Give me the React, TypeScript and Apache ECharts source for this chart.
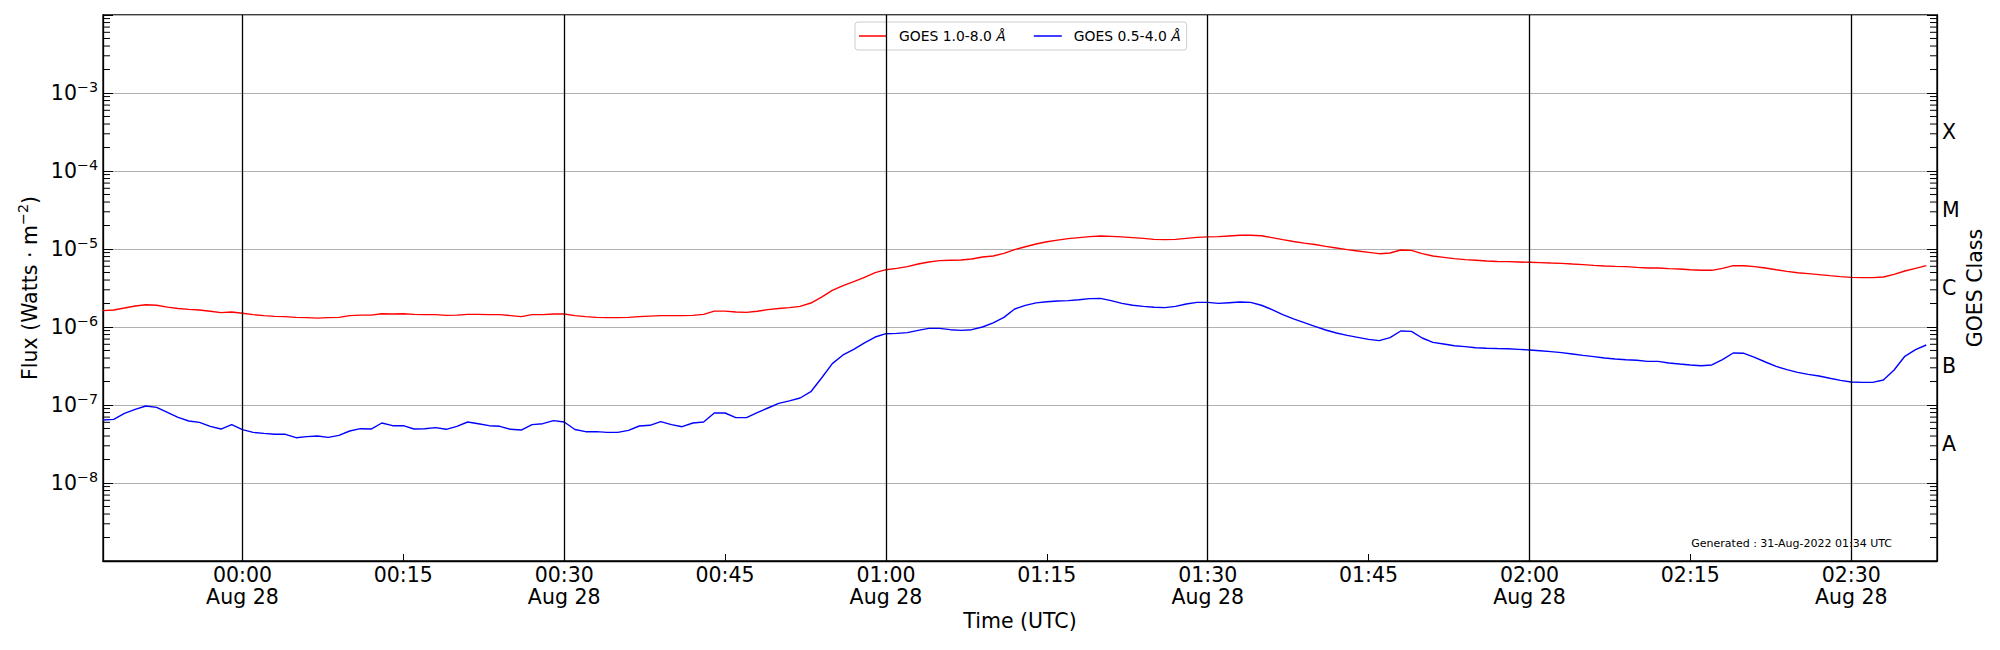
import React, { useEffect, useRef } from "react";
import * as echarts from "echarts";

// ---- data -----------------------------------------------------------------
const START_UTC = Date.UTC(2022, 7, 27, 23, 47); // first sample / x-axis min
const END_UTC = Date.UTC(2022, 7, 28, 2, 38); // x-axis max
const SAMPLE_MS = 60000; // 1-minute cadence

const seriesNames = ["GOES 1.0-8.0 Å", "GOES 0.5-4.0 Å"];

// GOES 1.0-8.0 Å flux (W m^-2), one value per minute from 23:47 UTC
const xrsLong = [
  1.62e-6, 1.65e-6, 1.75e-6, 1.86e-6, 1.93e-6, 1.9e-6, 1.8e-6, 1.73e-6, 1.68e-6, 1.65e-6,
  1.59e-6, 1.53e-6, 1.56e-6, 1.5e-6, 1.44e-6, 1.4e-6, 1.37e-6, 1.36e-6, 1.33e-6, 1.32e-6,
  1.3e-6, 1.32e-6, 1.33e-6, 1.4e-6, 1.42e-6, 1.42e-6, 1.48e-6, 1.47e-6, 1.48e-6, 1.45e-6,
  1.44e-6, 1.44e-6, 1.41e-6, 1.42e-6, 1.45e-6, 1.45e-6, 1.44e-6, 1.44e-6, 1.4e-6, 1.36e-6,
  1.44e-6, 1.44e-6, 1.47e-6, 1.47e-6, 1.4e-6, 1.36e-6, 1.33e-6, 1.32e-6, 1.32e-6, 1.33e-6,
  1.36e-6, 1.38e-6, 1.4e-6, 1.4e-6, 1.4e-6, 1.41e-6, 1.45e-6, 1.6e-6, 1.6e-6, 1.56e-6,
  1.54e-6, 1.59e-6, 1.67e-6, 1.73e-6, 1.77e-6, 1.84e-6, 2.03e-6, 2.42e-6, 2.95e-6, 3.39e-6,
  3.81e-6, 4.33e-6, 4.97e-6, 5.43e-6, 5.65e-6, 5.94e-6, 6.42e-6, 6.81e-6, 7.09e-6, 7.16e-6,
  7.23e-6, 7.44e-6, 7.9e-6, 8.13e-6, 8.8e-6, 9.81e-6, 1.07e-5, 1.16e-5, 1.24e-5, 1.3e-5,
  1.36e-5, 1.4e-5, 1.44e-5, 1.47e-5, 1.45e-5, 1.43e-5, 1.4e-5, 1.37e-5, 1.33e-5, 1.32e-5,
  1.33e-5, 1.37e-5, 1.41e-5, 1.43e-5, 1.44e-5, 1.47e-5, 1.5e-5, 1.5e-5, 1.48e-5, 1.4e-5,
  1.32e-5, 1.25e-5, 1.19e-5, 1.14e-5, 1.08e-5, 1.03e-5, 9.81e-6, 9.43e-6, 9.06e-6, 8.71e-6,
  8.89e-6, 9.71e-6, 9.61e-6, 8.71e-6, 8.13e-6, 7.82e-6, 7.52e-6, 7.3e-6, 7.16e-6, 7.02e-6,
  6.91e-6, 6.88e-6, 6.81e-6, 6.75e-6, 6.68e-6, 6.61e-6, 6.55e-6, 6.42e-6, 6.3e-6, 6.17e-6,
  6.05e-6, 5.99e-6, 5.94e-6, 5.82e-6, 5.71e-6, 5.71e-6, 5.6e-6, 5.54e-6, 5.43e-6, 5.33e-6,
  5.33e-6, 5.65e-6, 6.11e-6, 6.11e-6, 5.94e-6, 5.71e-6, 5.43e-6, 5.17e-6, 4.97e-6, 4.83e-6,
  4.69e-6, 4.55e-6, 4.42e-6, 4.33e-6, 4.29e-6, 4.29e-6, 4.38e-6, 4.73e-6, 5.22e-6, 5.65e-6,
  6.11e-6,
];

// GOES 0.5-4.0 Å flux (W m^-2), one value per minute from 23:47 UTC
const xrsShort = [
  6.42e-8, 6.55e-8, 7.82e-8, 8.8e-8, 9.71e-8, 9.33e-8, 8.05e-8, 6.95e-8, 6.24e-8, 5.99e-8,
  5.33e-8, 4.92e-8, 5.6e-8, 4.83e-8, 4.46e-8, 4.33e-8, 4.21e-8, 4.21e-8, 3.81e-8, 3.93e-8,
  4.0e-8, 3.85e-8, 4.08e-8, 4.64e-8, 4.97e-8, 4.92e-8, 5.88e-8, 5.43e-8, 5.43e-8, 4.92e-8,
  4.97e-8, 5.12e-8, 4.88e-8, 5.33e-8, 6.05e-8, 5.76e-8, 5.43e-8, 5.33e-8, 4.88e-8, 4.78e-8,
  5.6e-8, 5.76e-8, 6.3e-8, 6.05e-8, 4.85e-8, 4.55e-8, 4.55e-8, 4.46e-8, 4.46e-8, 4.73e-8,
  5.38e-8, 5.49e-8, 6.11e-8, 5.6e-8, 5.27e-8, 5.88e-8, 6.05e-8, 7.9e-8, 7.9e-8, 6.88e-8,
  6.88e-8, 7.97e-8, 9.15e-8, 1.05e-7, 1.13e-7, 1.23e-7, 1.48e-7, 2.22e-7, 3.39e-7, 4.38e-7,
  5.17e-7, 6.24e-7, 7.44e-7, 8.21e-7, 8.29e-7, 8.46e-7, 9.06e-7, 9.61e-7, 9.61e-7, 9.24e-7,
  9.06e-7, 9.24e-7, 1.0e-6, 1.13e-6, 1.33e-6, 1.7e-6, 1.89e-6, 2.04e-6, 2.11e-6, 2.15e-6,
  2.18e-6, 2.24e-6, 2.31e-6, 2.33e-6, 2.18e-6, 2.01e-6, 1.9e-6, 1.84e-6, 1.79e-6, 1.77e-6,
  1.84e-6, 1.97e-6, 2.07e-6, 2.07e-6, 2.01e-6, 2.05e-6, 2.09e-6, 2.07e-6, 1.9e-6, 1.67e-6,
  1.44e-6, 1.27e-6, 1.14e-6, 1.02e-6, 9.15e-7, 8.38e-7, 7.82e-7, 7.37e-7, 6.95e-7, 6.68e-7,
  7.3e-7, 8.89e-7, 8.8e-7, 7.23e-7, 6.36e-7, 6.05e-7, 5.76e-7, 5.6e-7, 5.43e-7, 5.35e-7,
  5.3e-7, 5.27e-7, 5.17e-7, 5.07e-7, 4.97e-7, 4.83e-7, 4.69e-7, 4.51e-7, 4.33e-7, 4.17e-7,
  4.0e-7, 3.89e-7, 3.81e-7, 3.74e-7, 3.63e-7, 3.63e-7, 3.45e-7, 3.35e-7, 3.26e-7, 3.19e-7,
  3.26e-7, 3.81e-7, 4.64e-7, 4.6e-7, 4.08e-7, 3.56e-7, 3.13e-7, 2.84e-7, 2.62e-7, 2.47e-7,
  2.35e-7, 2.2e-7, 2.07e-7, 1.97e-7, 1.95e-7, 1.95e-7, 2.09e-7, 2.81e-7, 4.21e-7, 5.12e-7,
  5.88e-7,
];

// x-axis ticks (UTC, Aug 28) and the vertical reference lines
const timeTicks = ["00:00", "00:15", "00:30", "00:45", "01:00", "01:15", "01:30", "01:45", "02:00", "02:15", "02:30"];
const halfHourLines = ["00:00", "00:30", "01:00", "01:30", "02:00", "02:30"];

// y-axis range and labelled decades
const FLUX_MIN = 1e-9;
const FLUX_MAX = 1e-2;
const labelledDecades = [1e-8, 1e-7, 1e-6, 1e-5, 1e-4, 1e-3];
const decadeExponents = [-9, -8, -7, -6, -5, -4, -3];
const minorMultipliers = [2, 3, 4, 5, 6, 7, 8, 9];

// GOES class letters on the right axis, placed at half-decade positions
const goesClassLetters = ["A", "B", "C", "M", "X"];
const goesClassLogPos = [-7.5, -6.5, -5.5, -4.5, -3.5];

const monthNames = ["Jan", "Feb", "Mar", "Apr", "May", "Jun", "Jul", "Aug", "Sep", "Oct", "Nov", "Dec"];
const generatedText = "Generated : 31-Aug-2022 01:34 UTC";

// ---- helpers --------------------------------------------------------------
const FONT = "DejaVu Sans";
const TICK_FS = 20.5;
const pad2 = (n: number) => (n < 10 ? "0" + n : "" + n);
const toSeries = (vals: number[]) => vals.map((v, i) => [START_UTC + i * SAMPLE_MS, v]);
const hhmmToUtc = (s: string) => {
  const [h, m] = s.split(":").map(Number);
  return Date.UTC(2022, 7, 28, h, m);
};
const minorTickValues: number[] = [];
decadeExponents.forEach((e) =>
  minorMultipliers.forEach((m) => minorTickValues.push(m * Math.pow(10, e)))
);

export default function App() {
  const ref = useRef<HTMLDivElement>(null);

  useEffect(() => {
    if (!ref.current) return;
    const chart = echarts.init(ref.current, null, { renderer: "svg" });

    const supRich = {
      b: { fontSize: TICK_FS, lineHeight: 27, fontFamily: FONT, color: "#000" },
      s: { fontSize: 14.3, lineHeight: 15, verticalAlign: "top", fontFamily: FONT, color: "#000" },
    };
    const timeTickValues = timeTicks.map(hhmmToUtc);

    const option: any = {
      animation: false,
      backgroundColor: "#fff",
      textStyle: { fontFamily: FONT, color: "#000" },
      grid: {
        left: 103,
        right: 63,
        top: 15,
        bottom: 89,
        show: true,
        borderColor: "#000",
        borderWidth: 1.3,
        backgroundColor: "transparent",
      },
      legend: {
        data: seriesNames.map((n) => ({ name: n, icon: "rect" })),
        top: 22,
        left: 855,
        padding: [6, 6, 6, 4],
        itemGap: 28,
        itemWidth: 28,
        itemHeight: 1.5,
        borderColor: "#cccccc",
        borderWidth: 1,
        borderRadius: 3,
        backgroundColor: "rgba(255,255,255,0.8)",
        formatter: (name: string) => name.replace("Å", "{i|Å}"),
        textStyle: {
          fontFamily: FONT,
          fontSize: 13.9,
          lineHeight: 16,
          color: "#000",
          padding: [0, 0, 0, 7],
          rich: { i: { fontFamily: FONT, fontSize: 13.9, lineHeight: 16, fontStyle: "italic", color: "#000" } },
        },
      },
      xAxis: [
        {
          type: "value",
          min: START_UTC,
          max: END_UTC,
          name: "Time (UTC)",
          nameLocation: "middle",
          nameGap: 49,
          nameMoveOverlap: false,
          nameTextStyle: { fontFamily: FONT, fontSize: TICK_FS, color: "#000" },
          axisLine: { show: true, lineStyle: { color: "#000", width: 1.3 } },
          axisTick: {
            show: true,
            inside: true,
            length: 7,
            customValues: timeTickValues,
            lineStyle: { color: "#000", width: 1 },
          },
          splitLine: { show: false },
          axisLabel: {
            customValues: timeTickValues,
            margin: 3,
            fontFamily: FONT,
            fontSize: TICK_FS,
            lineHeight: 22,
            color: "#000",
            formatter: (v: number) => {
              const d = new Date(v);
              const mm = d.getUTCMinutes();
              const base = pad2(d.getUTCHours()) + ":" + pad2(mm);
              return mm % 30 === 0 ? base + "\n" + monthNames[d.getUTCMonth()] + " " + d.getUTCDate() : base;
            },
          },
        },
      ],
      yAxis: [
        {
          type: "log",
          logBase: 10,
          min: FLUX_MIN,
          max: FLUX_MAX,
          splitNumber: 7,
          position: "left",
          name: "Flux (Watts · m{s|−2})",
          nameLocation: "middle",
          nameGap: 60,
          nameMoveOverlap: false,
          nameRotate: 90,
          nameTextStyle: {
            fontFamily: FONT,
            fontSize: TICK_FS,
            lineHeight: 27,
            color: "#000",
            rich: {
              s: { fontSize: 14.3, lineHeight: 15, verticalAlign: "top", fontFamily: FONT, color: "#000" },
            },
          },
          axisLine: { show: true, lineStyle: { color: "#000", width: 1.3 } },
          axisTick: { show: true, inside: true, length: 10, lineStyle: { color: "#000", width: 1 } },
          splitLine: { show: true, lineStyle: { color: "#b0b0b0", width: 1.2 } },
          axisLabel: {
            customValues: labelledDecades,
            margin: 5,
            formatter: (v: number) => {
              const e = Math.round(Math.log10(v));
              return "{b|10}{s|" + (e < 0 ? "−" : "") + Math.abs(e) + "}";
            },
            rich: supRich,
          },
        },
        {
          type: "log",
          logBase: 10,
          min: FLUX_MIN,
          max: FLUX_MAX,
          splitNumber: 7,
          position: "right",
          axisLine: { show: true, lineStyle: { color: "#000", width: 1.3 } },
          axisTick: { show: true, inside: true, length: 10, lineStyle: { color: "#000", width: 1 } },
          splitLine: { show: false },
          axisLabel: { show: false },
        },
        {
          type: "value",
          min: Math.log10(FLUX_MIN),
          max: Math.log10(FLUX_MAX),
          position: "right",
          name: "GOES Class",
          nameLocation: "middle",
          nameGap: 27,
          nameMoveOverlap: false,
          nameRotate: 90,
          nameTextStyle: { fontFamily: FONT, fontSize: TICK_FS, color: "#000" },
          axisLine: { show: false },
          axisTick: { show: false },
          splitLine: { show: false },
          axisLabel: {
            customValues: goesClassLogPos,
            margin: 5,
            padding: [8, 0, 0, 0],
            fontFamily: FONT,
            fontSize: TICK_FS,
            color: "#000",
            formatter: (v: number) => {
              const idx = goesClassLogPos.findIndex((p) => Math.abs(p - v) < 1e-6);
              return idx >= 0 ? goesClassLetters[idx] : "";
            },
          },
        },
      ],
      series: [
        {
          name: seriesNames[0],
          type: "line",
          xAxisIndex: 0,
          yAxisIndex: 0,
          data: toSeries(xrsLong),
          symbol: "none",
          showSymbol: false,
          lineStyle: { color: "#ff0000", width: 1.4 },
          itemStyle: { color: "#ff0000" },
          z: 3,
          markLine: {
            silent: true,
            symbol: ["none", "none"],
            label: { show: false },
            lineStyle: { color: "#000", width: 1.3, type: "solid" },
            data: halfHourLines.map((t) => ({ xAxis: hhmmToUtc(t) })),
          },
        },
        {
          name: seriesNames[1],
          type: "line",
          xAxisIndex: 0,
          yAxisIndex: 0,
          data: toSeries(xrsShort),
          symbol: "none",
          showSymbol: false,
          lineStyle: { color: "#0000ff", width: 1.4 },
          itemStyle: { color: "#0000ff" },
          z: 3,
        },
        {
          name: "minor-ticks",
          type: "custom",
          silent: true,
          xAxisIndex: 0,
          yAxisIndex: 0,
          data: minorTickValues.map((v) => [START_UTC, v]),
          renderItem: (params: any, api: any) => {
            const cs = params.coordSys;
            const y = api.coord([api.value(0), api.value(1)])[1];
            const st = { stroke: "#000", lineWidth: 1 };
            return {
              type: "group",
              children: [
                { type: "line", shape: { x1: cs.x, y1: y, x2: cs.x + 7, y2: y }, style: st },
                {
                  type: "line",
                  shape: { x1: cs.x + cs.width, y1: y, x2: cs.x + cs.width - 7, y2: y },
                  style: st,
                },
              ],
            };
          },
          z: 4,
        },
      ],
      graphic: [
        {
          type: "text",
          right: 108,
          top: 538,
          style: { text: generatedText, fontFamily: FONT, fontSize: 11, fill: "#000" },
        },
      ],
    };

    chart.setOption(option);
    return () => chart.dispose();
  }, []);

  return (
    <div
      ref={ref}
      style={{ position: "fixed", left: 0, top: 0, width: 2000, height: 650, background: "#fff" }}
    />
  );
}
